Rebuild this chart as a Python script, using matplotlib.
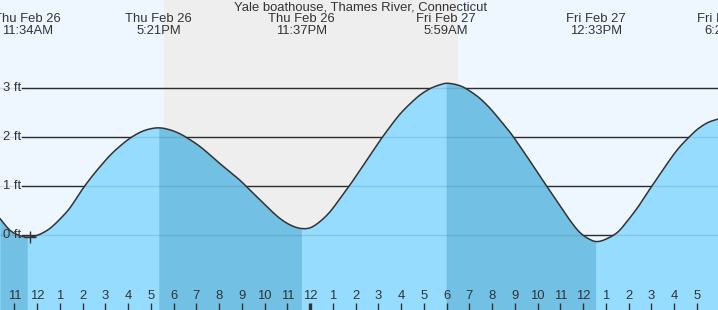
import numpy as np
import matplotlib
matplotlib.use('Agg')
import matplotlib.pyplot as plt

plt.rcParams['font.family'] = ['Liberation Sans', 'DejaVu Sans']

title = "Yale boathouse, Thames River, Connecticut"

# tide curve: hours since Thu 00:00, height in ft
curve_hours = [10.37, 10.81, 11.25, 11.69, 12.13, 12.57, 13.01, 13.45, 13.89, 14.33,
               14.77, 15.21, 15.65, 16.09, 16.53, 16.97, 17.40, 17.84, 18.28, 18.72,
               19.16, 19.60, 20.04, 20.48, 20.92, 21.36, 21.80, 22.24, 22.68, 23.12,
               23.56, 24.00, 24.44, 24.88, 25.32, 25.76, 26.20, 26.63, 27.07, 27.51,
               27.95, 28.39, 28.83, 29.27, 29.71, 30.06, 30.59, 31.03, 31.47, 31.91,
               32.35, 32.79, 33.23, 33.67, 34.11, 34.55, 34.99, 35.43, 35.87, 36.31,
               36.66, 37.10, 37.54, 37.98, 38.42, 38.86, 39.30, 39.74, 40.17, 40.61,
               41.05, 41.49, 41.93]
curve_ft = [0.34, 0.10, -0.01, -0.04, 0.02, 0.14, 0.33, 0.56, 0.87, 1.15,
            1.40, 1.63, 1.82, 1.98, 2.10, 2.17, 2.19, 2.15, 2.07, 1.95,
            1.81, 1.64, 1.46, 1.29, 1.12, 0.92, 0.72, 0.52, 0.34, 0.21,
            0.14, 0.15, 0.28, 0.48, 0.75, 1.03, 1.33, 1.63, 1.93, 2.21,
            2.47, 2.68, 2.86, 2.99, 3.07, 3.10, 3.05, 2.94, 2.79, 2.59,
            2.35, 2.10, 1.81, 1.51, 1.20, 0.90, 0.60, 0.30, 0.05, -0.09,
            -0.13, -0.06, 0.07, 0.31, 0.58, 0.89, 1.19, 1.49, 1.76, 1.98,
            2.17, 2.30, 2.37]

# high / low events
event_hours = [11.567, 17.35, 23.617, 29.983, 36.55, 42.33]
event_day = ["Thu Feb 26", "Thu Feb 26", "Thu Feb 26", "Fri Feb 27", "Fri Feb 27", "Fri Feb 27"]
event_time = ["11:34AM", "5:21PM", "11:37PM", "5:59AM", "12:33PM", "6:20PM"]

sunset = 17.58
sunrise = 30.44

ft_levels = [0, 1, 2, 3]
hour_ticks = list(range(11, 42))

FS = 9.4
W, H = 718, 310
fig = plt.figure(figsize=(W / 100, H / 100), dpi=100)
ax = fig.add_axes([0, 0, 1, 1])
x0, x1 = 10.371, 41.93
y0, y1 = -1.527, 4.8
ax.set_xlim(x0, x1)
ax.set_ylim(y0, y1)
ax.axis('off')

def px_x(px):
    return x0 + px / W * (x1 - x0)

# smooth the read points a little (catmull-rom through them) so the line isn't jagged
def smooth(xs, ys, n=8):
    xs = np.asarray(xs); ys = np.asarray(ys)
    px = np.concatenate([[2 * xs[0] - xs[1]], xs, [2 * xs[-1] - xs[-2]]])
    py = np.concatenate([[2 * ys[0] - ys[1]], ys, [2 * ys[-1] - ys[-2]]])
    ox, oy = [], []
    s = np.linspace(0, 1, n, endpoint=False)
    for i in range(1, len(px) - 2):
        for arr, out in ((px, ox), (py, oy)):
            p0, p1, p2, p3 = arr[i - 1], arr[i], arr[i + 1], arr[i + 2]
            out.extend(0.5 * (2 * p1 + (-p0 + p2) * s + (2 * p0 - 5 * p1 + 4 * p2 - p3) * s ** 2
                              + (-p0 + 3 * p1 - 3 * p2 + p3) * s ** 3))
    ox.append(xs[-1]); oy.append(ys[-1])
    return np.array(ox), np.array(oy)

t, h = smooth(curve_hours, curve_ft)

# day / night background
ax.axvspan(x0, x1, color='#eef7ff', zorder=0)
ax.axvspan(sunset, sunrise, color='#eeeeee', zorder=0)

# grid lines under the water
for lv in ft_levels:
    ax.plot([px_x(22), x1], [lv, lv], color='#333333', lw=1.0, zorder=1)

ax.fill_between(t, h, y0, color='#96dcff', lw=0, zorder=2)

# falling tide (high -> low) darker
falls = [(x0, event_hours[0]), (event_hours[1], event_hours[2]), (event_hours[3], event_hours[4])]
for a, b in falls:
    m = (t > a) & (t < b)
    tt = np.concatenate([[a], t[m], [b]])
    hh = np.interp(tt, t, h)
    ax.fill_between(tt, hh, y0, color='#72c0e4', lw=0, zorder=3)

for lv in ft_levels:
    ax.axhline(lv, color='black', alpha=0.1, lw=1.0, zorder=4)

ax.plot(t, h, color='#333333', lw=1.1, zorder=5, solid_capstyle='round')
ax.plot([11.69], [-0.03], marker='+', ms=8, mew=1, color='#333333', zorder=6)

for lv in ft_levels:
    ax.text(px_x(3), lv, f"{lv} ft", ha='left', va='center', fontsize=FS, color='#333333', zorder=7)

# hour axis
for hr in hour_ticks:
    lw = 2.4 if hr % 24 == 0 else 1.0
    ax.plot([hr, hr], [-1.384, y0], color='#333333', lw=lw, zorder=7, solid_capstyle='butt')
    ax.text(hr, -1.24, str((hr - 1) % 12 + 1), ha='center', va='center', fontsize=FS,
            color='#333333', zorder=7)

fig.text(360 / W, 1 - 8 / H, title, ha='center', va='center', fontsize=FS, color='#333333')
for eh, d, tm in zip(event_hours, event_day, event_time):
    xf = (eh - x0) / (x1 - x0)
    fig.text(xf, 1 - 19.5 / H, d, ha='center', va='center', fontsize=FS, color='#333333')
    fig.text(xf, 1 - 31.5 / H, tm, ha='center', va='center', fontsize=FS, color='#333333')

fig.savefig('out.png', dpi=100)
